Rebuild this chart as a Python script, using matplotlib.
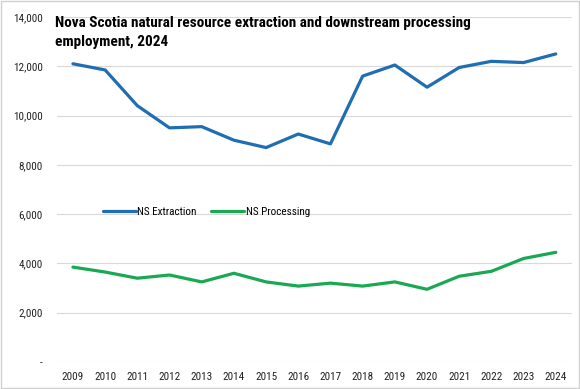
import matplotlib.pyplot as plt
import numpy as np
from matplotlib.ticker import FuncFormatter

plt.rcParams['font.family'] = ['Roboto Condensed', 'DejaVu Sans']

years = ['2009', '2010', '2011', '2012', '2013', '2014', '2015', '2016',
         '2017', '2018', '2019', '2020', '2021', '2022', '2023', '2024']
extraction = [12100, 11850, 10400, 9500, 9550, 9000, 8700, 9250,
              8850, 11600, 12050, 11150, 11950, 12200, 12150, 12500]
processing = [3850, 3650, 3400, 3530, 3250, 3600, 3250, 3080,
              3200, 3080, 3250, 2950, 3480, 3680, 4200, 4450]

fig = plt.figure(figsize=(5.8, 3.89), dpi=100)
ax = fig.add_axes([0.098, 0.0694, 0.888, 0.887])

x = np.arange(len(years))
ax.plot(x, extraction, color='#1f6db3', lw=2.3, label='NS Extraction', solid_capstyle='round')
ax.plot(x, processing, color='#1aa852', lw=2.3, label='NS Processing', solid_capstyle='round')

ax.set_xlim(-0.5, len(years) - 0.5)
ax.set_ylim(0, 14000)
ax.set_yticks(range(0, 14001, 2000))
ax.yaxis.set_major_formatter(FuncFormatter(lambda v, p: '-' if v == 0 else f'{int(v):,}'))
ax.set_xticks(x)
ax.set_xticklabels(years)
ax.grid(axis='y', color='#d9d9d9', lw=0.8)
ax.set_axisbelow(True)
for s in ax.spines.values():
    s.set_visible(False)
ax.tick_params(length=0, labelsize=8, colors='#222222')
ax.tick_params(axis='x', pad=7)
ax.tick_params(axis='y', pad=10)

ax.text(-0.55, 14050, 'Nova Scotia natural resource extraction and downstream processing\nemployment, 2024',
        fontsize=11, fontweight='bold', va='top', ha='left', linespacing=1.45)

ax.legend(loc='center left', bbox_to_anchor=(0.07, 0.435), ncol=2, frameon=False,
          fontsize=8, handlelength=3.0, handletextpad=0.1, columnspacing=1.3)

fig.patches.append(plt.Rectangle((0.002, 0.003), 0.996, 0.994, transform=fig.transFigure,
                                 fill=False, edgecolor='#d0d0d0', lw=1))
fig.savefig('out.png')
